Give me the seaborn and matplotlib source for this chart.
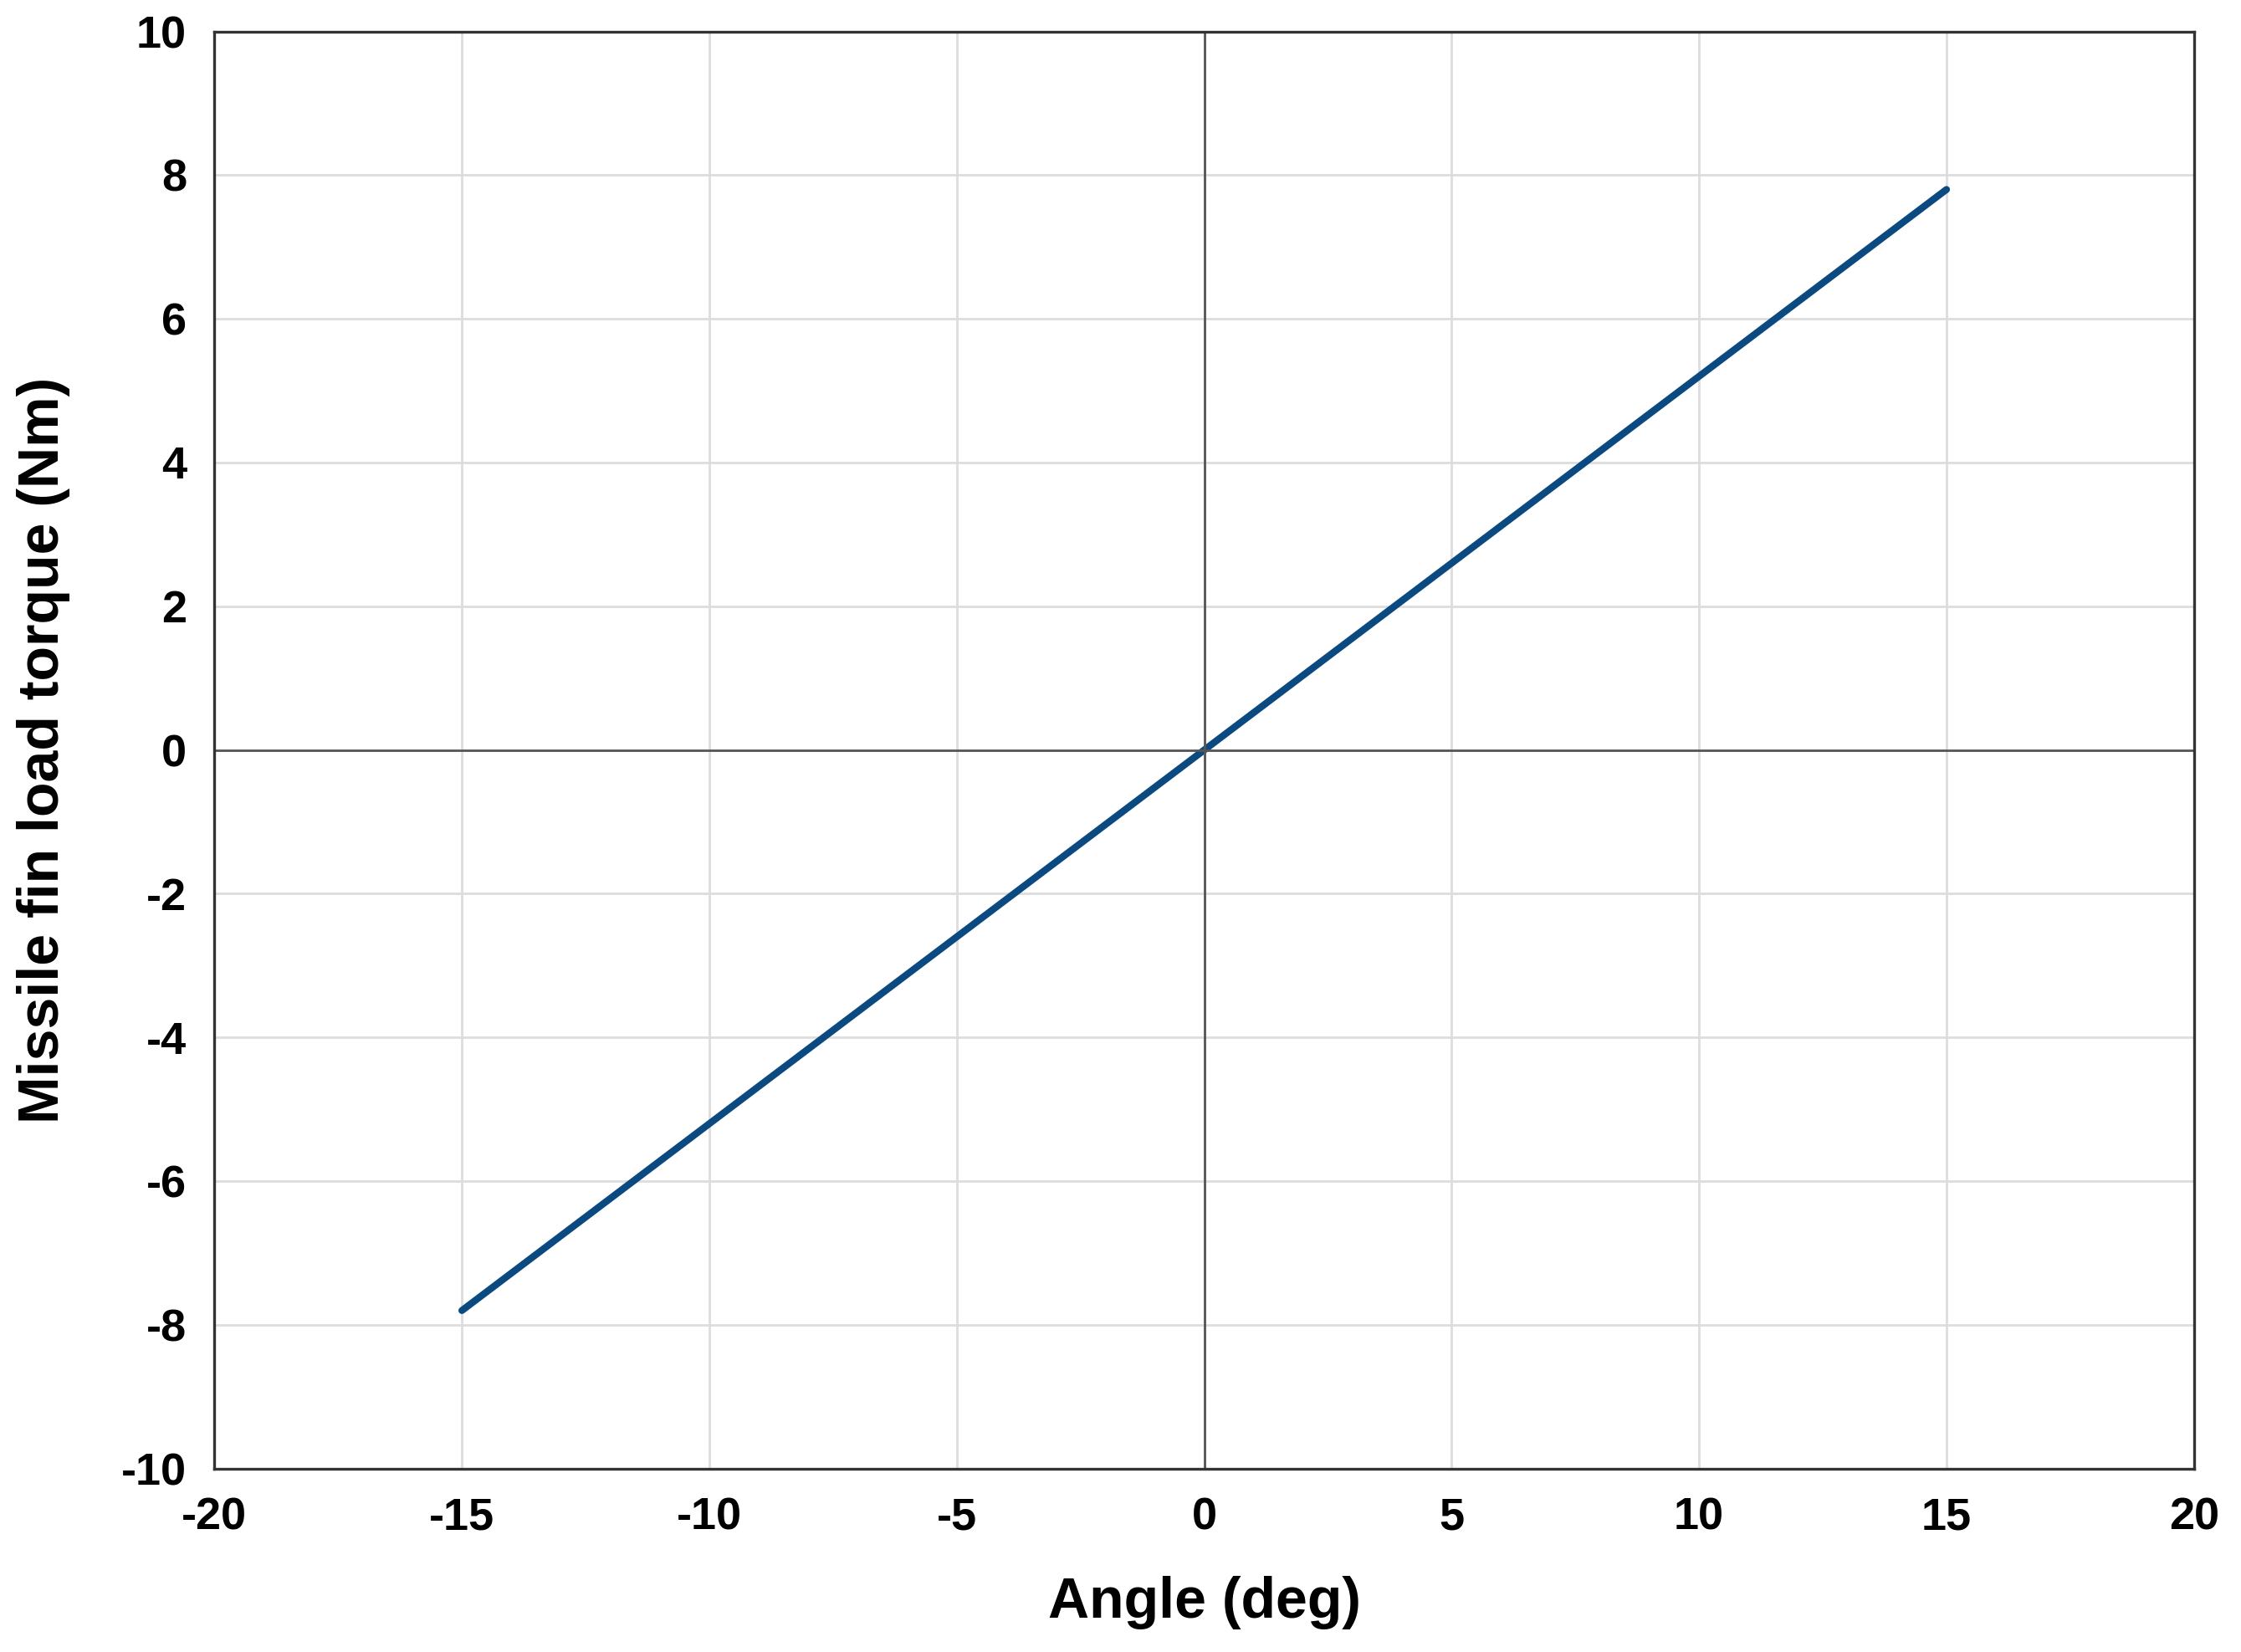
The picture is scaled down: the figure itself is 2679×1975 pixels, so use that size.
import pandas as pd
import matplotlib.pyplot as plt
import seaborn as sns

# Data
angle_deg = [-15, 0, 15]
torque_nm = [-7.8, 0.0, 7.8]

df = pd.DataFrame({'angle': angle_deg, 'torque': torque_nm})

sns.set_style('white')
plt.rcParams['font.family'] = ['Liberation Sans', 'DejaVu Sans']
plt.rcParams['font.weight'] = 'bold'
plt.rcParams['axes.unicode_minus'] = False

fig = plt.figure(figsize=(13.395, 9.875), dpi=200)
ax = fig.add_axes([0.0957, 0.111, 0.8833, 0.870])

sns.lineplot(data=df, x='angle', y='torque', ax=ax, color='#0b4a80', linewidth=3)

ax.set_xlim(-20, 20)
ax.set_ylim(-10, 10)
ax.set_xticks(range(-20, 21, 5))
ax.set_yticks(range(-10, 11, 2))
ax.grid(True, color='#dddddd', linewidth=1)
ax.axhline(0, color='#555555', linewidth=1)
ax.axvline(0, color='#555555', linewidth=1)
for s in ax.spines.values():
    s.set_color('#333333')
    s.set_linewidth(1.2)
ax.tick_params(labelsize=19.5, length=0, pad=12, labelcolor='black')
for lab in ax.get_xticklabels() + ax.get_yticklabels():
    lab.set_fontweight('bold')
ax.set_xlabel('Angle (deg)', fontsize=24.5, fontweight='bold', labelpad=16, color='black')
ax.set_ylabel('Missile fin load torque (Nm)', fontsize=24.5, fontweight='bold', labelpad=22, color='black')

fig.savefig('out.png', dpi=200)
